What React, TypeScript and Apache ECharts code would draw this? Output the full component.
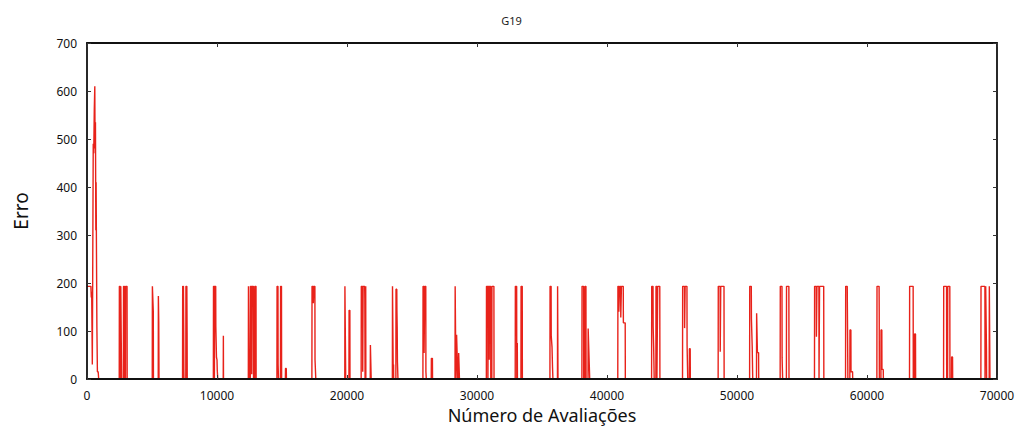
import React, { useEffect, useRef } from "react";
import * as echarts from "echarts";

const chartTitle = "G19";
const xAxisTitle = "Número de Avaliações";
const yAxisTitle = "Erro";
const xTicks = { min: 0, max: 70000, interval: 10000 };
const yTicks = { min: 0, max: 700, interval: 100 };

// Opening phase: error starts near 193, dips, then peaks above 600 before reaching 0
const warmupTrace: [number, number][] = [
  [0, 193], [300, 193], [330, 170], [360, 182], [410, 30], [480, 490], [520, 470],
  [560, 560], [600, 610], [620, 480], [650, 535], [680, 310], [700, 410],
  [760, 110], [800, 15], [860, 15], [900, 0], [2400, 0],
];

// Periodic restarts: error jumps back to ~193 and decays to 0
const restartTrace: [number, number][] = [
  [2480, 0], [2490, 193], [2560, 193], [2570, 0], [2590, 0], [2600, 193], [2650, 193], [2660, 0], [2800, 0], [2810, 193], [2880, 193], [2890, 0], [2960, 0], [2970, 193], [3080, 193], [3090, 0],
  [5020, 0], [5030, 193], [5080, 193], [5100, 140], [5110, 0], [5480, 0], [5490, 173], [5520, 118], [5540, 0],
  [7350, 0], [7360, 193], [7420, 193], [7440, 100], [7450, 20], [7460, 0], [7600, 0], [7610, 193], [7680, 193], [7700, 95], [7710, 0],
  [9720, 0], [9730, 193], [9790, 193], [9800, 0], [9820, 193], [9900, 193], [9910, 110], [9950, 110], [9960, 45], [10000, 40], [10020, 18], [10060, 0], [10480, 0], [10490, 90], [10500, 0],
  [12410, 0], [12420, 193], [12460, 193], [12470, 0], [12560, 0], [12570, 193], [12660, 193], [12670, 10], [12700, 193], [12800, 193], [12810, 0], [12900, 0], [12910, 193], [13000, 193], [13010, 0],
  [14610, 0], [14620, 193], [14690, 193], [14700, 30], [14720, 30], [14730, 0], [14880, 0], [14890, 193], [14960, 193], [14970, 0], [15260, 0], [15270, 22], [15330, 22], [15340, 0],
  [17300, 0], [17310, 193], [17400, 193], [17410, 158], [17440, 158], [17450, 193], [17530, 193], [17540, 40], [17580, 40], [17600, 0],
  [19830, 0], [19840, 193], [19890, 193], [19900, 0], [20150, 0], [20160, 143], [20220, 143], [20230, 0],
  [21090, 0], [21100, 193], [21200, 193], [21210, 15], [21230, 15], [21240, 193], [21360, 193], [21370, 167], [21390, 0], [21430, 0], [21440, 193], [21450, 0], [21790, 0], [21800, 71], [21850, 71], [21860, 0],
  [23490, 0], [23500, 193], [23550, 193], [23560, 0], [23580, 30], [23590, 0], [23760, 0], [23770, 187], [23830, 187], [23840, 143], [23860, 109], [23880, 36], [23920, 0],
  [25840, 0], [25850, 193], [25920, 193], [25930, 54], [25960, 54], [25980, 193], [26060, 193], [26070, 15], [26100, 0], [26480, 0], [26490, 43], [26570, 43], [26580, 0],
  [28310, 0], [28320, 193], [28370, 193], [28380, 0], [28420, 0], [28430, 92], [28470, 92], [28480, 44], [28500, 44], [28510, 0], [28580, 0], [28590, 54], [28640, 54], [28650, 0],
  [30720, 0], [30730, 193], [30830, 193], [30840, 0], [30870, 193], [30930, 193], [30940, 40], [30960, 193], [31050, 193], [31060, 0], [31140, 0], [31150, 193], [31300, 193], [31310, 0],
  [32940, 0], [32950, 193], [33050, 193], [33060, 0], [33100, 75], [33110, 0], [33380, 0], [33390, 193], [33480, 193], [33490, 0],
  [35610, 0], [35620, 193], [35700, 193], [35710, 90], [35760, 90], [35770, 67], [35800, 67], [35810, 24], [35840, 0], [36190, 0], [36200, 193], [36220, 193], [36230, 0],
  [38070, 0], [38080, 193], [38200, 193], [38210, 0], [38300, 0], [38310, 193], [38380, 193], [38390, 0], [38540, 0], [38550, 105], [38600, 105], [38610, 53], [38660, 53], [38670, 0],
  [40830, 0], [40840, 193], [40900, 193], [40910, 140], [40960, 140], [40970, 193], [41050, 193], [41060, 128], [41100, 128], [41110, 193], [41250, 193], [41260, 117], [41400, 117], [41410, 0],
  [43430, 0], [43440, 193], [43540, 193], [43550, 109], [43580, 109], [43590, 65], [43620, 65], [43630, 0], [43760, 0], [43770, 193], [43830, 193], [43840, 0], [43900, 193], [44060, 193], [44070, 0],
  [45810, 0], [45820, 193], [45960, 193], [45970, 106], [46000, 106], [46010, 193], [46150, 193], [46160, 71], [46200, 71], [46210, 0], [46330, 0], [46340, 63], [46400, 63], [46410, 0],
  [48550, 0], [48560, 193], [48700, 193], [48710, 57], [48740, 57], [48750, 193], [49000, 193], [49010, 0],
  [50970, 0], [50980, 193], [51100, 193], [51110, 125], [51160, 125], [51170, 67], [51200, 67], [51210, 0], [51500, 0], [51510, 137], [51560, 137], [51570, 55], [51660, 55], [51670, 0],
  [53320, 0], [53330, 193], [53460, 193], [53470, 44], [53500, 44], [53510, 0], [53800, 0], [53810, 193], [53990, 193], [54000, 0],
  [55960, 0], [55970, 193], [56100, 193], [56110, 88], [56140, 88], [56150, 193], [56300, 193], [56310, 0], [56350, 193], [56670, 193], [56680, 0],
  [58350, 0], [58360, 193], [58480, 193], [58490, 151], [58520, 151], [58530, 0], [58680, 0], [58690, 102], [58760, 102], [58770, 15], [58890, 15], [58900, 0],
  [60760, 0], [60770, 193], [60930, 193], [60940, 140], [60950, 0], [61070, 0], [61080, 102], [61140, 102], [61150, 20], [61250, 20], [61260, 0],
  [63270, 0], [63280, 193], [63550, 193], [63560, 0], [63650, 0], [63660, 94], [63730, 94], [63740, 0],
  [65890, 0], [65900, 193], [66120, 193], [66130, 0], [66200, 0], [66210, 193], [66370, 193], [66380, 0], [66500, 0], [66510, 46], [66580, 46], [66590, 0],
  [68760, 0], [68770, 193], [69070, 193], [69080, 0], [69120, 0], [69130, 193], [69180, 193], [69190, 60], [69200, 0], [69400, 0], [69410, 193], [69450, 193], [69460, 0],
];

const lineColor = "#e8221a";
const tickFont = { fontFamily: "Noto Sans", fontSize: 12, color: "#111" };

export default function App() {
  const ref = useRef<HTMLDivElement>(null);

  useEffect(() => {
    if (!ref.current) return;
    const chart = echarts.init(ref.current, undefined, { renderer: "svg" });
    const axisLine = { show: true, onZero: false, lineStyle: { color: "#111", width: 1.8 } };
    const innerTick = { show: true, inside: true, length: 4, lineStyle: { color: "#333" } };
    const plain = (v: number) => String(v);
    chart.setOption({
      animation: false,
      backgroundColor: "#fff",
      title: {
        text: chartTitle,
        left: "center",
        top: 10,
        textStyle: { fontFamily: "Noto Sans", fontSize: 11, fontWeight: "normal", color: "#222" },
      },
      grid: { left: 87, right: 26, top: 43, bottom: 47, outerBoundsMode: "none", containLabel: false },
      xAxis: [
        {
          type: "value",
          ...xTicks,
          position: "bottom",
          z: 5,
          name: xAxisTitle,
          nameLocation: "middle",
          nameGap: 23,
          nameTextStyle: { fontFamily: "Noto Sans", fontSize: 18, color: "#111" },
          axisLine,
          axisTick: innerTick,
          axisLabel: { ...tickFont, margin: 10, formatter: plain },
          splitLine: { show: false },
        },
        {
          type: "value",
          ...xTicks,
          position: "top",
          z: 5,
          axisLine,
          axisTick: innerTick,
          axisLabel: { show: false },
          splitLine: { show: false },
        },
      ],
      yAxis: [
        {
          type: "value",
          ...yTicks,
          position: "left",
          z: 5,
          name: yAxisTitle,
          nameLocation: "middle",
          nameGap: 57,
          nameTextStyle: { fontFamily: "Noto Sans", fontSize: 19, color: "#111" },
          axisLine,
          axisTick: innerTick,
          axisLabel: { ...tickFont, margin: 10, formatter: plain },
          splitLine: { show: false },
        },
        {
          type: "value",
          ...yTicks,
          position: "right",
          z: 5,
          axisLine,
          axisTick: innerTick,
          axisLabel: { show: false },
          splitLine: { show: false },
        },
      ],
      series: [
        {
          type: "line",
          data: [...warmupTrace, ...restartTrace],
          showSymbol: false,
          clip: true,
          lineStyle: { color: lineColor, width: 1.4 },
          itemStyle: { color: lineColor },
          z: 1,
        },
      ],
    });
    return () => chart.dispose();
  }, []);

  return (
    <div
      ref={ref}
      style={{ position: "fixed", left: 0, top: 0, width: 1023, height: 426, background: "#fff" }}
    />
  );
}
